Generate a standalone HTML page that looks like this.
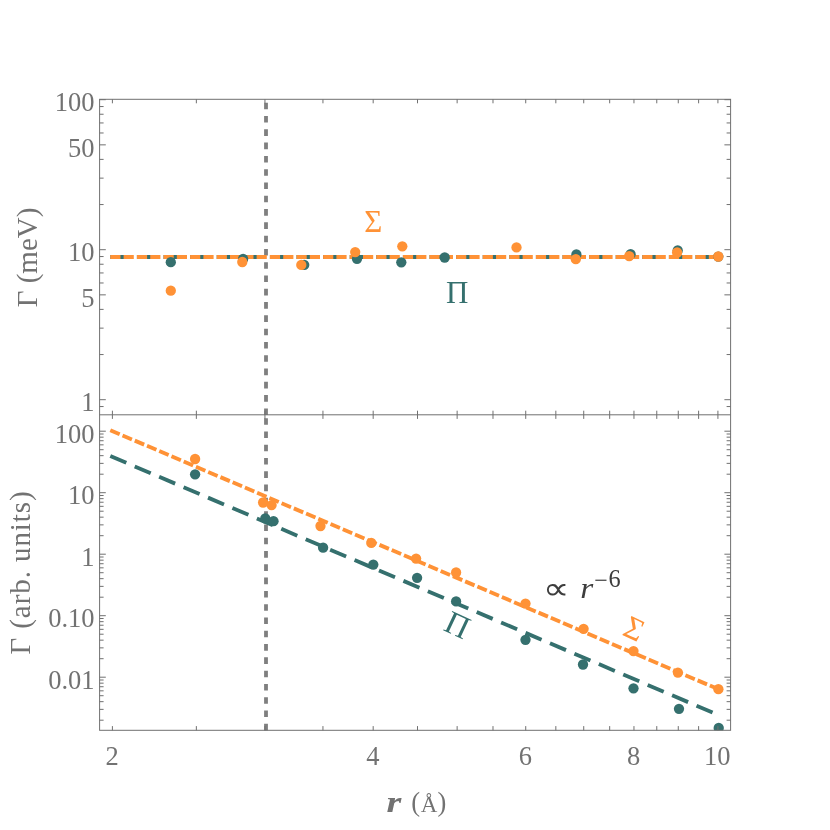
<!DOCTYPE html>
<html><head><meta charset="utf-8"><title>plot</title>
<style>html,body{margin:0;padding:0;background:#fff;}svg{display:block;will-change:transform;}text{font-family:"Liberation Serif",serif;}</style></head><body>
<svg width="830" height="830" viewBox="0 0 830 830">
<rect width="830" height="830" fill="#fff"/>
<defs><clipPath id="cT"><rect x="99.6" y="99.3" width="631.0" height="315.5"/></clipPath><clipPath id="cB"><rect x="99.6" y="414.8" width="631.0" height="315.6"/></clipPath></defs>
<g stroke="#7f7f7f" stroke-width="3.8" stroke-dasharray="6.6 6.69" fill="none">
<line x1="266.0" y1="415.0" x2="266.0" y2="99.3"/>
<line x1="266.0" y1="730.4" x2="266.0" y2="414.8"/>
</g>
<g clip-path="url(#cT)" fill="none" stroke-width="3.85">
<line x1="110.3" y1="257.0" x2="720.0" y2="257.0" stroke="#35706e" stroke-dasharray="17.4 9.2"/>
<line x1="110.3" y1="257.0" x2="720.0" y2="257.0" stroke="#ff9236" stroke-dasharray="10.2 3.1"/>
</g>
<g clip-path="url(#cT)">
<circle cx="170.8" cy="262.2" r="5.15" fill="#35706e"/>
<circle cx="243.1" cy="258.9" r="5.15" fill="#35706e"/>
<circle cx="304.2" cy="264.9" r="5.15" fill="#35706e"/>
<circle cx="357.0" cy="258.8" r="5.15" fill="#35706e"/>
<circle cx="401.3" cy="262.3" r="5.15" fill="#35706e"/>
<circle cx="444.7" cy="257.5" r="5.15" fill="#35706e"/>
<circle cx="576.4" cy="254.5" r="5.15" fill="#35706e"/>
<circle cx="630.6" cy="254.2" r="5.15" fill="#35706e"/>
<circle cx="677.7" cy="250.4" r="5.15" fill="#35706e"/>
<circle cx="718.3" cy="256.6" r="5.15" fill="#35706e"/>
<circle cx="170.8" cy="290.7" r="5.15" fill="#ff9236"/>
<circle cx="242.3" cy="262.0" r="5.15" fill="#ff9236"/>
<circle cx="301.3" cy="264.9" r="5.15" fill="#ff9236"/>
<circle cx="355.2" cy="252.1" r="5.15" fill="#ff9236"/>
<circle cx="402.3" cy="246.3" r="5.15" fill="#ff9236"/>
<circle cx="516.5" cy="247.4" r="5.15" fill="#ff9236"/>
<circle cx="575.8" cy="259.2" r="5.15" fill="#ff9236"/>
<circle cx="629.2" cy="256.1" r="5.15" fill="#ff9236"/>
<circle cx="677.1" cy="252.5" r="5.15" fill="#ff9236"/>
<circle cx="718.3" cy="256.5" r="5.15" fill="#ff9236"/>
</g>
<g clip-path="url(#cB)" fill="none" stroke-width="3.85">
<line x1="110.30" y1="456.01" x2="720.00" y2="715.71" stroke="#35706e" stroke-dasharray="17.4 9.15"/>
<line x1="110.30" y1="430.21" x2="720.00" y2="689.91" stroke="#ff9236" stroke-dasharray="10.2 3.1"/>
</g>
<g clip-path="url(#cB)">
<circle cx="195.1" cy="474.3" r="5.15" fill="#35706e"/>
<circle cx="265.3" cy="518.3" r="5.15" fill="#35706e"/>
<circle cx="273.5" cy="521.2" r="5.15" fill="#35706e"/>
<circle cx="323.1" cy="547.7" r="5.15" fill="#35706e"/>
<circle cx="373.3" cy="564.6" r="5.15" fill="#35706e"/>
<circle cx="417.1" cy="577.8" r="5.15" fill="#35706e"/>
<circle cx="456.1" cy="601.4" r="5.15" fill="#35706e"/>
<circle cx="525.5" cy="639.8" r="5.15" fill="#35706e"/>
<circle cx="583.0" cy="664.5" r="5.15" fill="#35706e"/>
<circle cx="633.5" cy="688.3" r="5.15" fill="#35706e"/>
<circle cx="679.0" cy="708.8" r="5.15" fill="#35706e"/>
<circle cx="718.7" cy="728.0" r="5.15" fill="#35706e"/>
<circle cx="195.1" cy="459.0" r="5.15" fill="#ff9236"/>
<circle cx="263.1" cy="502.5" r="5.15" fill="#ff9236"/>
<circle cx="271.6" cy="505.1" r="5.15" fill="#ff9236"/>
<circle cx="320.5" cy="526.0" r="5.15" fill="#ff9236"/>
<circle cx="371.3" cy="542.9" r="5.15" fill="#ff9236"/>
<circle cx="416.1" cy="558.6" r="5.15" fill="#ff9236"/>
<circle cx="456.1" cy="572.5" r="5.15" fill="#ff9236"/>
<circle cx="525.5" cy="603.6" r="5.15" fill="#ff9236"/>
<circle cx="583.6" cy="628.8" r="5.15" fill="#ff9236"/>
<circle cx="633.5" cy="651.1" r="5.15" fill="#ff9236"/>
<circle cx="677.9" cy="672.6" r="5.15" fill="#ff9236"/>
<circle cx="718.4" cy="689.2" r="5.15" fill="#ff9236"/>
</g>
<g stroke="#707070" stroke-width="1" fill="none">
<rect x="99.6" y="99.3" width="631.0" height="631.0"/>
<line x1="99.6" y1="414.8" x2="730.6" y2="414.8"/>
<line x1="112.40" y1="99.3" x2="112.40" y2="103.3"/>
<line x1="112.40" y1="410.7" x2="112.40" y2="418.9"/>
<line x1="112.40" y1="730.4" x2="112.40" y2="726.1"/>
<line x1="196.35" y1="99.3" x2="196.35" y2="103.3"/>
<line x1="196.35" y1="410.7" x2="196.35" y2="418.9"/>
<line x1="196.35" y1="730.4" x2="196.35" y2="726.1"/>
<line x1="264.95" y1="99.3" x2="264.95" y2="103.3"/>
<line x1="264.95" y1="410.7" x2="264.95" y2="418.9"/>
<line x1="264.95" y1="730.4" x2="264.95" y2="726.1"/>
<line x1="322.94" y1="99.3" x2="322.94" y2="103.3"/>
<line x1="322.94" y1="410.7" x2="322.94" y2="418.9"/>
<line x1="322.94" y1="730.4" x2="322.94" y2="726.1"/>
<line x1="373.18" y1="99.3" x2="373.18" y2="103.3"/>
<line x1="373.18" y1="410.7" x2="373.18" y2="418.9"/>
<line x1="373.18" y1="730.4" x2="373.18" y2="726.1"/>
<line x1="417.50" y1="99.3" x2="417.50" y2="103.3"/>
<line x1="417.50" y1="410.7" x2="417.50" y2="418.9"/>
<line x1="417.50" y1="730.4" x2="417.50" y2="726.1"/>
<line x1="457.14" y1="99.3" x2="457.14" y2="103.3"/>
<line x1="457.14" y1="410.7" x2="457.14" y2="418.9"/>
<line x1="457.14" y1="730.4" x2="457.14" y2="726.1"/>
<line x1="492.99" y1="99.3" x2="492.99" y2="103.3"/>
<line x1="492.99" y1="410.7" x2="492.99" y2="418.9"/>
<line x1="492.99" y1="730.4" x2="492.99" y2="726.1"/>
<line x1="525.73" y1="99.3" x2="525.73" y2="103.3"/>
<line x1="525.73" y1="410.7" x2="525.73" y2="418.9"/>
<line x1="525.73" y1="730.4" x2="525.73" y2="726.1"/>
<line x1="555.84" y1="99.3" x2="555.84" y2="103.3"/>
<line x1="555.84" y1="410.7" x2="555.84" y2="418.9"/>
<line x1="555.84" y1="730.4" x2="555.84" y2="726.1"/>
<line x1="583.73" y1="99.3" x2="583.73" y2="103.3"/>
<line x1="583.73" y1="410.7" x2="583.73" y2="418.9"/>
<line x1="583.73" y1="730.4" x2="583.73" y2="726.1"/>
<line x1="609.68" y1="99.3" x2="609.68" y2="103.3"/>
<line x1="609.68" y1="410.7" x2="609.68" y2="418.9"/>
<line x1="609.68" y1="730.4" x2="609.68" y2="726.1"/>
<line x1="633.96" y1="99.3" x2="633.96" y2="103.3"/>
<line x1="633.96" y1="410.7" x2="633.96" y2="418.9"/>
<line x1="633.96" y1="730.4" x2="633.96" y2="726.1"/>
<line x1="656.77" y1="99.3" x2="656.77" y2="103.3"/>
<line x1="656.77" y1="410.7" x2="656.77" y2="418.9"/>
<line x1="656.77" y1="730.4" x2="656.77" y2="726.1"/>
<line x1="678.28" y1="99.3" x2="678.28" y2="103.3"/>
<line x1="678.28" y1="410.7" x2="678.28" y2="418.9"/>
<line x1="678.28" y1="730.4" x2="678.28" y2="726.1"/>
<line x1="698.62" y1="99.3" x2="698.62" y2="103.3"/>
<line x1="698.62" y1="410.7" x2="698.62" y2="418.9"/>
<line x1="698.62" y1="730.4" x2="698.62" y2="726.1"/>
<line x1="717.92" y1="99.3" x2="717.92" y2="103.3"/>
<line x1="717.92" y1="410.7" x2="717.92" y2="418.9"/>
<line x1="717.92" y1="730.4" x2="717.92" y2="726.1"/>
<line x1="99.6" y1="399.70" x2="105.8" y2="399.70"/>
<line x1="730.6" y1="399.70" x2="724.4" y2="399.70"/>
<line x1="99.6" y1="354.55" x2="103.6" y2="354.55"/>
<line x1="730.6" y1="354.55" x2="726.6" y2="354.55"/>
<line x1="99.6" y1="328.13" x2="103.6" y2="328.13"/>
<line x1="730.6" y1="328.13" x2="726.6" y2="328.13"/>
<line x1="99.6" y1="309.39" x2="103.6" y2="309.39"/>
<line x1="730.6" y1="309.39" x2="726.6" y2="309.39"/>
<line x1="99.6" y1="294.85" x2="105.8" y2="294.85"/>
<line x1="730.6" y1="294.85" x2="724.4" y2="294.85"/>
<line x1="99.6" y1="282.98" x2="103.6" y2="282.98"/>
<line x1="730.6" y1="282.98" x2="726.6" y2="282.98"/>
<line x1="99.6" y1="272.94" x2="103.6" y2="272.94"/>
<line x1="730.6" y1="272.94" x2="726.6" y2="272.94"/>
<line x1="99.6" y1="264.24" x2="103.6" y2="264.24"/>
<line x1="730.6" y1="264.24" x2="726.6" y2="264.24"/>
<line x1="99.6" y1="256.56" x2="103.6" y2="256.56"/>
<line x1="730.6" y1="256.56" x2="726.6" y2="256.56"/>
<line x1="99.6" y1="249.70" x2="105.8" y2="249.70"/>
<line x1="730.6" y1="249.70" x2="724.4" y2="249.70"/>
<line x1="99.6" y1="204.55" x2="103.6" y2="204.55"/>
<line x1="730.6" y1="204.55" x2="726.6" y2="204.55"/>
<line x1="99.6" y1="178.13" x2="103.6" y2="178.13"/>
<line x1="730.6" y1="178.13" x2="726.6" y2="178.13"/>
<line x1="99.6" y1="159.39" x2="103.6" y2="159.39"/>
<line x1="730.6" y1="159.39" x2="726.6" y2="159.39"/>
<line x1="99.6" y1="144.85" x2="105.8" y2="144.85"/>
<line x1="730.6" y1="144.85" x2="724.4" y2="144.85"/>
<line x1="99.6" y1="132.98" x2="103.6" y2="132.98"/>
<line x1="730.6" y1="132.98" x2="726.6" y2="132.98"/>
<line x1="99.6" y1="122.94" x2="103.6" y2="122.94"/>
<line x1="730.6" y1="122.94" x2="726.6" y2="122.94"/>
<line x1="99.6" y1="114.24" x2="103.6" y2="114.24"/>
<line x1="730.6" y1="114.24" x2="726.6" y2="114.24"/>
<line x1="99.6" y1="106.56" x2="103.6" y2="106.56"/>
<line x1="730.6" y1="106.56" x2="726.6" y2="106.56"/>
<line x1="99.6" y1="99.70" x2="105.8" y2="99.70"/>
<line x1="730.6" y1="99.70" x2="724.4" y2="99.70"/>
<line x1="99.6" y1="406.56" x2="103.6" y2="406.56"/>
<line x1="730.6" y1="406.56" x2="726.6" y2="406.56"/>
<line x1="99.6" y1="720.19" x2="103.6" y2="720.19"/>
<line x1="730.6" y1="720.19" x2="726.6" y2="720.19"/>
<line x1="99.6" y1="709.36" x2="103.6" y2="709.36"/>
<line x1="730.6" y1="709.36" x2="726.6" y2="709.36"/>
<line x1="99.6" y1="701.67" x2="103.6" y2="701.67"/>
<line x1="730.6" y1="701.67" x2="726.6" y2="701.67"/>
<line x1="99.6" y1="695.71" x2="103.6" y2="695.71"/>
<line x1="730.6" y1="695.71" x2="726.6" y2="695.71"/>
<line x1="99.6" y1="690.84" x2="103.6" y2="690.84"/>
<line x1="730.6" y1="690.84" x2="726.6" y2="690.84"/>
<line x1="99.6" y1="686.73" x2="103.6" y2="686.73"/>
<line x1="730.6" y1="686.73" x2="726.6" y2="686.73"/>
<line x1="99.6" y1="683.16" x2="103.6" y2="683.16"/>
<line x1="730.6" y1="683.16" x2="726.6" y2="683.16"/>
<line x1="99.6" y1="680.01" x2="103.6" y2="680.01"/>
<line x1="730.6" y1="680.01" x2="726.6" y2="680.01"/>
<line x1="99.6" y1="677.20" x2="105.8" y2="677.20"/>
<line x1="730.6" y1="677.20" x2="724.4" y2="677.20"/>
<line x1="99.6" y1="658.69" x2="103.6" y2="658.69"/>
<line x1="730.6" y1="658.69" x2="726.6" y2="658.69"/>
<line x1="99.6" y1="647.86" x2="103.6" y2="647.86"/>
<line x1="730.6" y1="647.86" x2="726.6" y2="647.86"/>
<line x1="99.6" y1="640.17" x2="103.6" y2="640.17"/>
<line x1="730.6" y1="640.17" x2="726.6" y2="640.17"/>
<line x1="99.6" y1="634.21" x2="103.6" y2="634.21"/>
<line x1="730.6" y1="634.21" x2="726.6" y2="634.21"/>
<line x1="99.6" y1="629.34" x2="103.6" y2="629.34"/>
<line x1="730.6" y1="629.34" x2="726.6" y2="629.34"/>
<line x1="99.6" y1="625.23" x2="103.6" y2="625.23"/>
<line x1="730.6" y1="625.23" x2="726.6" y2="625.23"/>
<line x1="99.6" y1="621.66" x2="103.6" y2="621.66"/>
<line x1="730.6" y1="621.66" x2="726.6" y2="621.66"/>
<line x1="99.6" y1="618.51" x2="103.6" y2="618.51"/>
<line x1="730.6" y1="618.51" x2="726.6" y2="618.51"/>
<line x1="99.6" y1="615.70" x2="105.8" y2="615.70"/>
<line x1="730.6" y1="615.70" x2="724.4" y2="615.70"/>
<line x1="99.6" y1="597.19" x2="103.6" y2="597.19"/>
<line x1="730.6" y1="597.19" x2="726.6" y2="597.19"/>
<line x1="99.6" y1="586.36" x2="103.6" y2="586.36"/>
<line x1="730.6" y1="586.36" x2="726.6" y2="586.36"/>
<line x1="99.6" y1="578.67" x2="103.6" y2="578.67"/>
<line x1="730.6" y1="578.67" x2="726.6" y2="578.67"/>
<line x1="99.6" y1="572.71" x2="103.6" y2="572.71"/>
<line x1="730.6" y1="572.71" x2="726.6" y2="572.71"/>
<line x1="99.6" y1="567.84" x2="103.6" y2="567.84"/>
<line x1="730.6" y1="567.84" x2="726.6" y2="567.84"/>
<line x1="99.6" y1="563.73" x2="103.6" y2="563.73"/>
<line x1="730.6" y1="563.73" x2="726.6" y2="563.73"/>
<line x1="99.6" y1="560.16" x2="103.6" y2="560.16"/>
<line x1="730.6" y1="560.16" x2="726.6" y2="560.16"/>
<line x1="99.6" y1="557.01" x2="103.6" y2="557.01"/>
<line x1="730.6" y1="557.01" x2="726.6" y2="557.01"/>
<line x1="99.6" y1="554.20" x2="105.8" y2="554.20"/>
<line x1="730.6" y1="554.20" x2="724.4" y2="554.20"/>
<line x1="99.6" y1="535.69" x2="103.6" y2="535.69"/>
<line x1="730.6" y1="535.69" x2="726.6" y2="535.69"/>
<line x1="99.6" y1="524.86" x2="103.6" y2="524.86"/>
<line x1="730.6" y1="524.86" x2="726.6" y2="524.86"/>
<line x1="99.6" y1="517.17" x2="103.6" y2="517.17"/>
<line x1="730.6" y1="517.17" x2="726.6" y2="517.17"/>
<line x1="99.6" y1="511.21" x2="103.6" y2="511.21"/>
<line x1="730.6" y1="511.21" x2="726.6" y2="511.21"/>
<line x1="99.6" y1="506.34" x2="103.6" y2="506.34"/>
<line x1="730.6" y1="506.34" x2="726.6" y2="506.34"/>
<line x1="99.6" y1="502.23" x2="103.6" y2="502.23"/>
<line x1="730.6" y1="502.23" x2="726.6" y2="502.23"/>
<line x1="99.6" y1="498.66" x2="103.6" y2="498.66"/>
<line x1="730.6" y1="498.66" x2="726.6" y2="498.66"/>
<line x1="99.6" y1="495.51" x2="103.6" y2="495.51"/>
<line x1="730.6" y1="495.51" x2="726.6" y2="495.51"/>
<line x1="99.6" y1="492.70" x2="105.8" y2="492.70"/>
<line x1="730.6" y1="492.70" x2="724.4" y2="492.70"/>
<line x1="99.6" y1="474.19" x2="103.6" y2="474.19"/>
<line x1="730.6" y1="474.19" x2="726.6" y2="474.19"/>
<line x1="99.6" y1="463.36" x2="103.6" y2="463.36"/>
<line x1="730.6" y1="463.36" x2="726.6" y2="463.36"/>
<line x1="99.6" y1="455.67" x2="103.6" y2="455.67"/>
<line x1="730.6" y1="455.67" x2="726.6" y2="455.67"/>
<line x1="99.6" y1="449.71" x2="103.6" y2="449.71"/>
<line x1="730.6" y1="449.71" x2="726.6" y2="449.71"/>
<line x1="99.6" y1="444.84" x2="103.6" y2="444.84"/>
<line x1="730.6" y1="444.84" x2="726.6" y2="444.84"/>
<line x1="99.6" y1="440.73" x2="103.6" y2="440.73"/>
<line x1="730.6" y1="440.73" x2="726.6" y2="440.73"/>
<line x1="99.6" y1="437.16" x2="103.6" y2="437.16"/>
<line x1="730.6" y1="437.16" x2="726.6" y2="437.16"/>
<line x1="99.6" y1="434.01" x2="103.6" y2="434.01"/>
<line x1="730.6" y1="434.01" x2="726.6" y2="434.01"/>
<line x1="99.6" y1="431.20" x2="105.8" y2="431.20"/>
<line x1="730.6" y1="431.20" x2="724.4" y2="431.20"/>
</g>
<g fill="#727272" font-size="26.5" text-anchor="end">
<text x="94.6" y="111.4">100</text>
<text x="94.6" y="156.5">50</text>
<text x="94.6" y="261.4">10</text>
<text x="94.6" y="306.5">5</text>
<text x="94.6" y="411.4">1</text>
<text x="94.6" y="442.9">100</text>
<text x="94.6" y="504.4">10</text>
<text x="94.6" y="565.9">1</text>
<text x="94.6" y="627.4">0.10</text>
<text x="94.6" y="688.9">0.01</text>
</g>
<g fill="#727272" font-size="26.5" text-anchor="middle">
<text x="112.1" y="764.9">2</text>
<text x="372.9" y="764.9">4</text>
<text x="525.4" y="764.9">6</text>
<text x="633.7" y="764.9">8</text>
<text x="717.3" y="764.9">10</text>
</g>
<text transform="translate(37.3,257.5) rotate(-90)" text-anchor="middle" font-size="29" fill="#727272">Γ (meV)</text>
<text transform="translate(30.2,572.5) rotate(-90)" text-anchor="middle" font-size="29" letter-spacing="0.92" fill="#727272">Γ (arb. units)</text>
<g fill="#727272"><text transform="translate(386.6,812.3) scale(1.27,1)" font-size="30" font-weight="bold" font-style="italic">r</text><text x="411.2" y="811.4" font-size="26.5">(</text><text x="420.8" y="812.1" font-size="23" font-family="Liberation Sans">Å</text><text x="437.4" y="811.4" font-size="26.5">)</text></g>
<text x="373.3" y="231.8" font-size="31" fill="#ff9236" text-anchor="middle">Σ</text>
<text x="457.2" y="302.7" font-size="31" fill="#35706e" text-anchor="middle">Π</text>
<text transform="translate(457.5,625.1) rotate(25.2)" y="10.6" font-size="32.5" fill="#35706e" text-anchor="middle">Π</text>
<text transform="translate(634.3,628.8) rotate(25.2)" y="10.6" font-size="32" fill="#ff9236" text-anchor="middle">Σ</text>
<g fill="#3d3d3d"><text transform="translate(543.2,599.3) scale(1.19,1)" font-size="30.5">∝</text><text x="580.2" y="598.3" font-size="29" font-style="italic" textLength="13" lengthAdjust="spacingAndGlyphs">r</text><text x="594.3" y="587.9" font-size="24">−</text><text x="608.5" y="586.9" font-size="24.3">6</text></g>
</svg></body></html>
